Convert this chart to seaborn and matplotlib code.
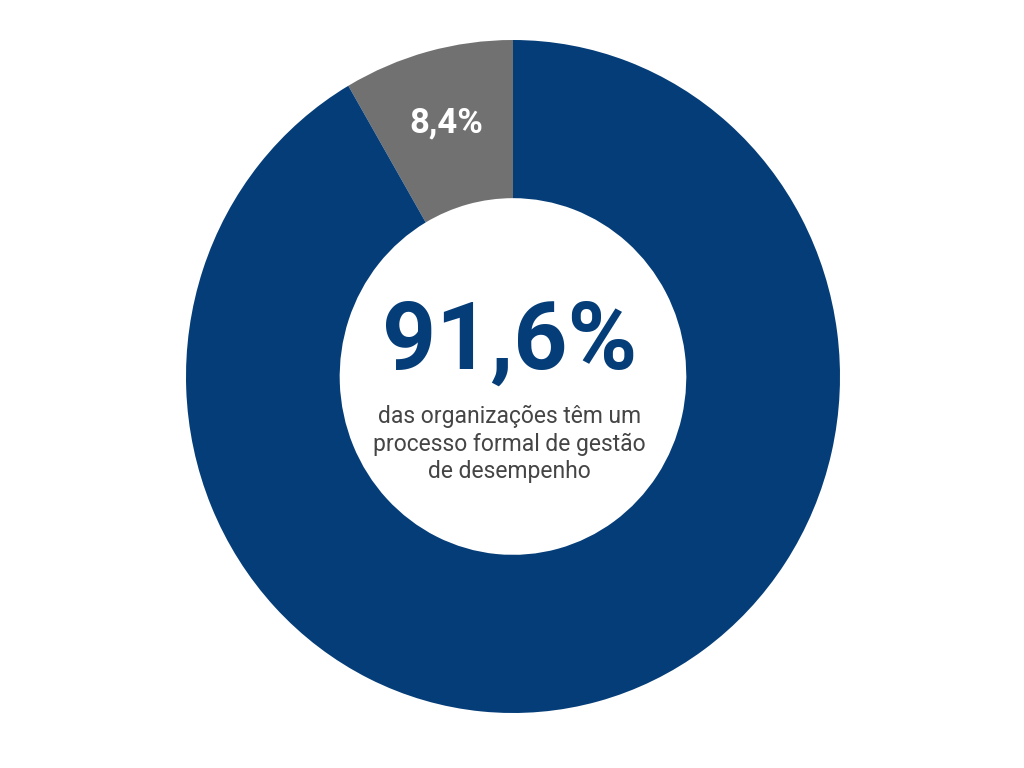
import matplotlib
matplotlib.use("Agg")
import matplotlib.pyplot as plt
import seaborn as sns

categories = ["Sem processo formal", "Com processo formal"]
values = [8.4, 91.6]
colors = ["#717171", "#043d78"]
center_value = "91,6%"
center_text = "das organizações têm um\nprocesso formal de gestão\nde desempenho"

sns.set_theme(style="white")
plt.rcParams['font.family'] = ['Roboto', 'DejaVu Sans']

fig = plt.figure(figsize=(10.24, 7.68), dpi=100)
fig.patch.set_facecolor("white")
ax = fig.add_axes([186/1024, (768-713)/768, 654/1024, 673/768])

def fmt(pct):
    if pct < 50:
        return f"{pct:.1f}%".replace(".", ",")
    return ""

wedges, texts, autotexts = ax.pie(
    values, colors=colors, startangle=90, counterclock=True, radius=1.0,
    wedgeprops=dict(width=0.47, edgecolor="none"),
    autopct=fmt, pctdistance=0.78,
    textprops=dict(color="white", fontsize=25, fontweight="bold"),
)
ax.set_aspect("auto")
ax.set_xlim(-1, 1)
ax.set_ylim(-1, 1)
ax.axis("off")

ax.text(-0.01, 0.10, center_value, ha="center", va="center",
        fontsize=68, fontweight="bold", color="#043d78")
ax.text(-0.01, -0.20, center_text, ha="center", va="center",
        fontsize=16.5, color="#454545", linespacing=1.25)

fig.savefig("out.png", dpi=100, facecolor="white")
